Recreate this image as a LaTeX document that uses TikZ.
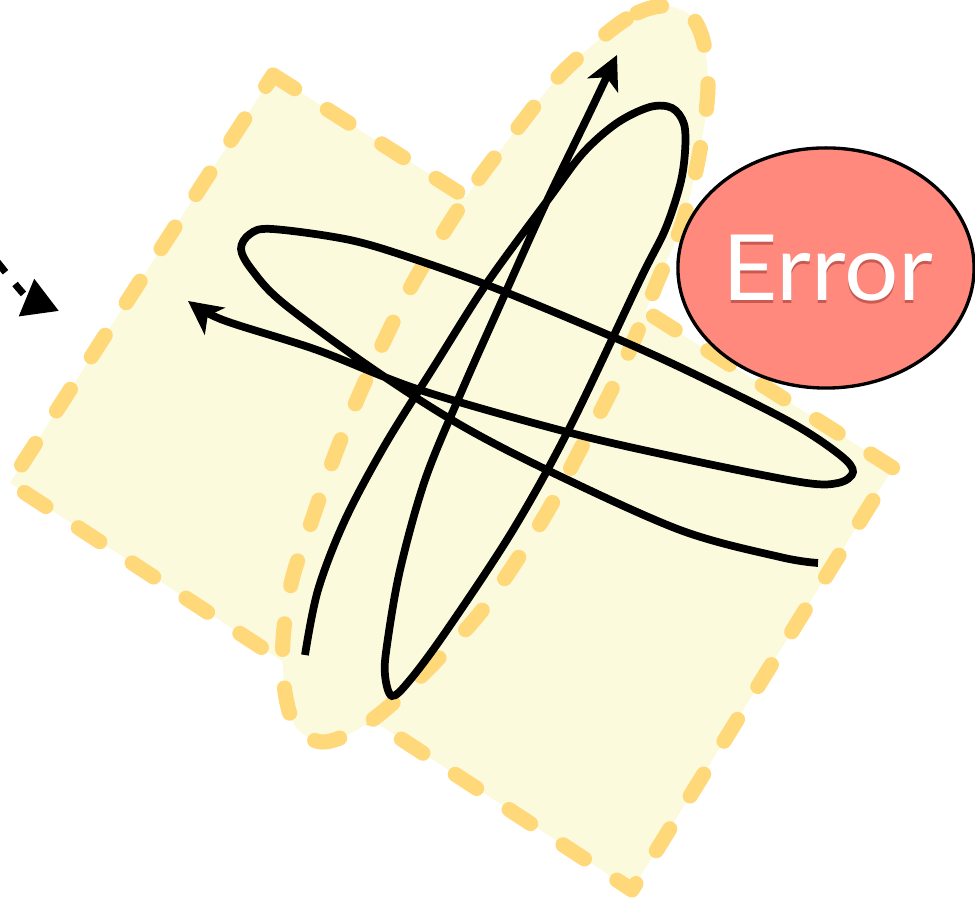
\documentclass[tikz,border=0pt]{standalone}
\usepackage{fontspec}
\newfontfamily\errorfont[FakeStretch=1.05]{Lato}
\usepackage{tikz}
\usetikzlibrary{arrows.meta,shapes.geometric}
\definecolor{zoneedge}{HTML}{FFD87A}
\definecolor{zonefill}{HTML}{FCFADC}
\definecolor{errorfill}{HTML}{FF897D}

\begin{document}
\begin{tikzpicture}[x=0.01cm, y=-0.01cm,
    zone/.style={draw=zoneedge, fill=zonefill, line width=4.3pt, line cap=round,
        line join=round, dash pattern=on 7.3pt off 11pt},
    trace/.style={line width=2.2pt, -{Stealth[length=9.5pt, width=9.5pt, inset=2.5pt]}},
    feed/.style={line width=2pt, dash pattern=on 3.7pt off 4.3pt,
        -{Triangle[length=10pt, width=11pt]}},
    errorbox/.style={ellipse, draw=black, line width=0.95pt, fill=errorfill,
        minimum width=2.96cm, minimum height=2.40cm, inner sep=0pt},
    errortext/.style={inner sep=0pt, font=\errorfont\fontsize{26}{26}\selectfont}]
  \useasboundingbox (0,0) rectangle (975,898);
  % the two regions
  \draw[zone] (273,75) -- (893,468) -- (632,890) -- (10,483) -- cycle;
  \draw[zone] plot[smooth cycle, tension=0.55] coordinates {
      (607,33) (637,13) (665,6) (690,15) (703,40) (708,80) (705,120) (695,175)
      (680,230) (658,280) (637,333) (610,393) (580,450) (550,507) (517,560)
      (480,613) (437,660) (393,703) (357,730) (322,742) (296,727) (285,692)
      (283,640) (292,580) (312,520) (333,460) (357,400) (383,343) (413,283)
      (447,227) (480,177) (520,125) (560,75)};
  % the two loops
  \coordinate (hstart) at (818,563);
  \coordinate (htip) at (188,301);
  \coordinate (vstart) at (305,655);
  \coordinate (vtip) at (617,55);
  \draw[trace] plot[smooth, tension=0.55] coordinates {
      (hstart) (780,557) (680,530) (547,470) (457,423) (370,367) (283,303)
      (252,270) (241,249) (250,234) (272,229) (350,240) (417,260) (500,290)
      (613,337) (690,372) (790,422) (840,455) (853,472) (838,483) (800,482)
      (680,458) (567,432) (420,390) (317,350) (223,320) (htip)};
  \draw[trace] plot[smooth, tension=0.55] coordinates {
      (vstart) (318,590) (345,520) (385,445) (435,365) (487,283) (550,197)
      (583,153) (617,123) (650,107) (672,108) (684,124) (685,152) (680,185)
      (665,230) (640,280) (570,427) (513,530) (447,630) (410,680) (392,696)
      (385,675) (387,645) (400,570) (425,480) (460,395) (500,305) (545,205)
      (590,112) (vtip)};
  % incoming arrow
  \coordinate (feedin) at (-20,240);
  \coordinate (feedtip) at (59,311);
  \draw[feed] (feedin) .. controls (5,272) and (25,297) .. (feedtip);
  % error bubble
  \node[errorbox] (err) at (826,268) {};
  \node[errortext, text=red!40!black, opacity=0.35] (errshade) at ([shift={(2,3)}]err.center) {Error};
  \node[errortext, text=white] (errlabel) at (828,268) {Error};
\end{tikzpicture}
\end{document}
